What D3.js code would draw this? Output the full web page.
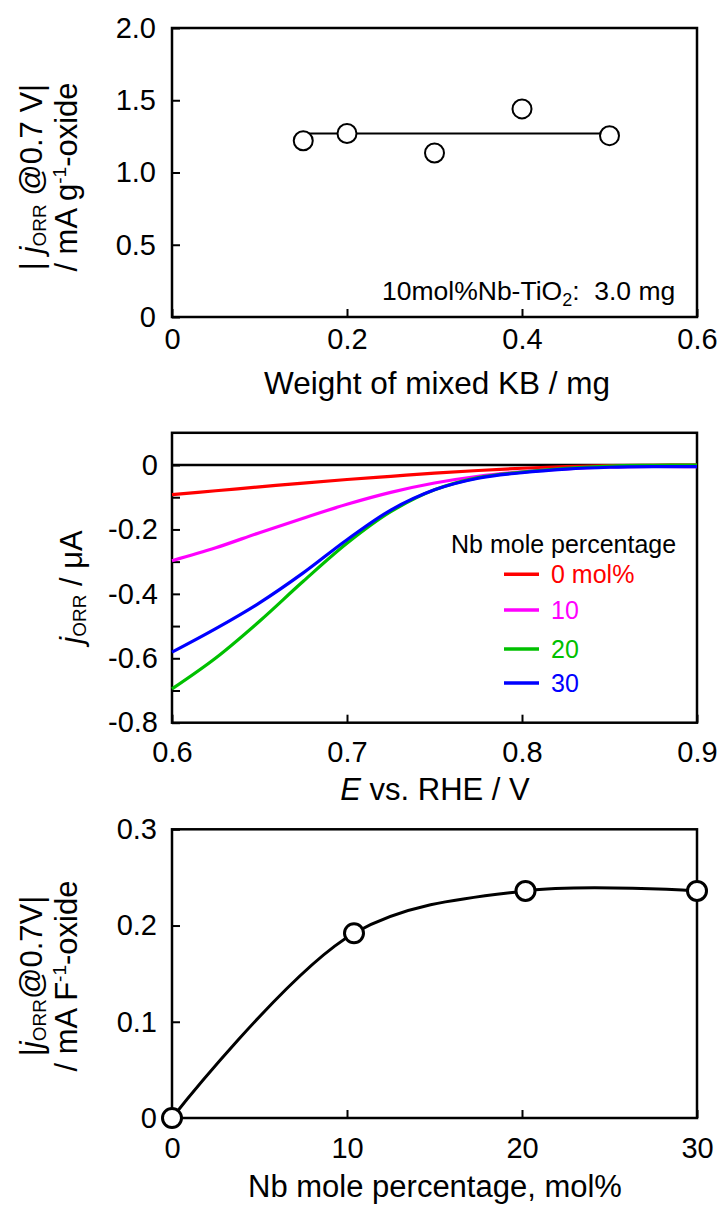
<!DOCTYPE html>
<html><head><meta charset="utf-8">
<script src="https://cdn.jsdelivr.net/npm/d3@7"></script>
<style>
body{margin:0;background:#fff;}
svg{display:block;font-family:"Liberation Sans",Arial,sans-serif;}
</style></head>
<body>
<svg id="c" width="722" height="1205"></svg>
<script>
// ---- Panel 1 data ----
const weightKB = [0.15, 0.2, 0.3, 0.4, 0.5];
const jWeight = [1.22, 1.27, 1.135, 1.44, 1.255];
const meanLineX = [0.15, 0.5];
const meanLineY = [1.27, 1.27];
const p1XTicks = [0, 0.2, 0.4, 0.6];
const p1XLabels = ["0", "0.2", "0.4", "0.6"];
const p1YTicks = [0, 0.5, 1.0, 1.5, 2.0];
const p1YLabels = ["0", "0.5", "1.0", "1.5", "2.0"];

// ---- Panel 2 data ----
const potential = [0.6, 0.625, 0.65, 0.675, 0.7, 0.725, 0.75, 0.775, 0.8, 0.825, 0.85, 0.875, 0.9];
const j0 = [-0.092, -0.080, -0.068, -0.056, -0.045, -0.035, -0.025, -0.017, -0.010, -0.005, -0.002, -0.001, 0];
const j10 = [-0.297, -0.257, -0.210, -0.165, -0.122, -0.085, -0.056, -0.035, -0.021, -0.012, -0.006, -0.004, -0.005];
const j20 = [-0.695, -0.599, -0.485, -0.361, -0.243, -0.145, -0.077, -0.039, -0.022, -0.010, -0.003, -0.001, 0];
const j30 = [-0.581, -0.508, -0.428, -0.335, -0.232, -0.140, -0.077, -0.041, -0.024, -0.013, -0.007, -0.005, -0.005];
const seriesNames = ["0 mol%", "10", "20", "30"];
const seriesColors = ["#ff0000", "#ff00ff", "#00c000", "#0000ff"];
const p2XTicks = [0.6, 0.7, 0.8, 0.9];
const p2XLabels = ["0.6", "0.7", "0.8", "0.9"];
const p2YTicks = [0, -0.1, -0.2, -0.3, -0.4, -0.5, -0.6, -0.7, -0.8];
const p2YLabels = ["0", "", "-0.2", "", "-0.4", "", "-0.6", "", "-0.8"];

// ---- Panel 3 data ----
const nbPct = [0, 10.4, 20.2, 30];
const jNb = [0, 0.192, 0.236, 0.236];
const p3XTicks = [0, 10, 20, 30];
const p3XLabels = ["0", "10", "20", "30"];
const p3YTicks = [0, 0.1, 0.2, 0.3];
const p3YLabels = ["0", "0.1", "0.2", "0.3"];

const svg = d3.select("#c");
const L = 172, R = 697;
const TICK = 8;
const TFS = 29;

function frame(g, top, bottom) {
  g.append("rect").attr("x", L).attr("y", top).attr("width", R - L).attr("height", bottom - top)
    .attr("fill", "none").attr("stroke", "#000").attr("stroke-width", 2.5);
}
function styleAxis(sel, fs) {
  sel.select(".domain").remove();
  sel.selectAll(".tick line").attr("stroke", "#000").attr("stroke-width", 2);
  sel.selectAll(".tick text").attr("fill", "#000").style("font-size", fs + "px")
    .style("font-family", '"Liberation Sans", Arial, sans-serif');
}
function yTitle(g, cy, lines) {
  lines.forEach(parts => {
    const t = g.append("text").attr("transform", `translate(${parts.x},${cy}) rotate(-90)`)
      .attr("text-anchor", "middle").style("font-size", "31px").attr("fill", "#000");
    parts.spans.forEach(s => {
      const ts = t.append("tspan").text(s.t);
      if (s.italic) ts.style("font-style", "italic");
      if (s.size) ts.style("font-size", s.size + "px");
      if (s.dy) ts.attr("dy", s.dy);
    });
  });
}

// ================= Panel 1 =================
{
  const top = 28, bottom = 317;
  const x = d3.scaleLinear().domain([0, 0.6]).range([L, R]);
  const y = d3.scaleLinear().domain([0, 2.0]).range([bottom, top]);
  const g = svg.append("g");
  g.append("g").attr("transform", `translate(${L},0)`)
    .call(d3.axisLeft(y).tickValues(p1YTicks).tickSizeInner(-TICK).tickSizeOuter(0).tickPadding(16)
      .tickFormat((d, i) => p1YLabels[i])).call(s => styleAxis(s, TFS));
  g.append("g").attr("transform", `translate(0,${bottom})`)
    .call(d3.axisBottom(x).tickValues(p1XTicks).tickSizeInner(-TICK).tickSizeOuter(0).tickPadding(11)
      .tickFormat((d, i) => p1XLabels[i])).call(s => styleAxis(s, TFS));
  frame(g, top, bottom);
  const lineData = meanLineX.map((v, i) => [v, meanLineY[i]]);
  g.append("path").datum(lineData).attr("fill", "none").attr("stroke", "#000").attr("stroke-width", 2)
    .attr("d", d3.line().x(d => x(d[0])).y(d => y(d[1])));
  g.selectAll("circle.p1").data(weightKB.map((v, i) => [v, jWeight[i]])).join("circle")
    .attr("cx", d => x(d[0])).attr("cy", d => y(d[1])).attr("r", 9.5)
    .attr("fill", "#fff").attr("stroke", "#000").attr("stroke-width", 2);
  const ann = g.append("text").attr("x", 382).attr("y", 300).style("font-size", "26.5px").attr("fill", "#000");
  ann.append("tspan").text("10mol%Nb-TiO");
  ann.append("tspan").text("2").style("font-size", "18px").attr("dy", 6);
  ann.append("tspan").text(":\u00a0\u00a03.0 mg").attr("dy", -6);
  g.append("text").attr("x", 437).attr("y", 394).attr("text-anchor", "middle")
    .style("font-size", "31.5px").text("Weight of mixed KB / mg");
  yTitle(g, 177, [
    {x: 42, spans: [{t: "| "}, {t: "j", italic: true}, {t: "ORR", size: 19, dy: 4}, {t: " @0.7 V|", dy: -4}]},
    {x: 77, spans: [{t: "/ mA g"}, {t: "-1", size: 19, dy: -11}, {t: "-oxide", dy: 11}]}
  ]);
}

// ================= Panel 2 =================
{
  const top = 432.8, bottom = 722.7;
  const x = d3.scaleLinear().domain([0.6, 0.9]).range([L, R]);
  const y = d3.scaleLinear().domain([-0.8, 0.1]).range([bottom, top]);
  const g = svg.append("g");
  g.append("g").attr("transform", `translate(${L},0)`)
    .call(d3.axisLeft(y).tickValues(p2YTicks).tickSizeInner(-TICK).tickSizeOuter(0).tickPadding(14)
      .tickFormat((d, i) => p2YLabels[i])).call(s => styleAxis(s, TFS));
  g.append("g").attr("transform", `translate(0,${bottom})`)
    .call(d3.axisBottom(x).tickValues(p2XTicks).tickSizeInner(-TICK).tickSizeOuter(0).tickPadding(19)
      .tickFormat((d, i) => p2XLabels[i])).call(s => styleAxis(s, TFS));
  frame(g, top, bottom);
  g.append("line").attr("x1", L).attr("x2", R).attr("y1", y(0)).attr("y2", y(0))
    .attr("stroke", "#000").attr("stroke-width", 2.5);
  const series = [j0, j10, j20, j30];
  const line = d3.line().x(d => x(d[0])).y(d => y(d[1])).curve(d3.curveCatmullRom.alpha(0.5));
  series.forEach((s, k) => {
    g.append("path").datum(potential.map((p, i) => [p, s[i]])).attr("fill", "none")
      .attr("stroke", seriesColors[k]).attr("stroke-width", 3.2).attr("d", line);
  });
  g.append("text").attr("x", 451).attr("y", 553).style("font-size", "25px").attr("fill", "#000")
    .text("Nb mole percentage");
  const legY = [574.3, 610, 649, 683];
  seriesNames.forEach((n, k) => {
    g.append("line").attr("x1", 504).attr("x2", 539).attr("y1", legY[k]).attr("y2", legY[k])
      .attr("stroke", seriesColors[k]).attr("stroke-width", 3.4);
    g.append("text").attr("x", 551).attr("y", legY[k] + 9).style("font-size", "25px")
      .attr("fill", seriesColors[k]).text(n);
  });
  const xt = g.append("text").attr("x", 435).attr("y", 800).attr("text-anchor", "middle")
    .style("font-size", "31px").attr("fill", "#000");
  xt.append("tspan").text("E").style("font-style", "italic");
  xt.append("tspan").text(" vs. RHE / V");
  yTitle(g, 587, [
    {x: 82, spans: [{t: "j", italic: true}, {t: "ORR", size: 19, dy: 4}, {t: " / μA", dy: -4}]}
  ]);
}

// ================= Panel 3 =================
{
  const top = 829.3, bottom = 1118;
  const x = d3.scaleLinear().domain([0, 30]).range([L, R]);
  const y = d3.scaleLinear().domain([0, 0.3]).range([bottom, top]);
  const g = svg.append("g");
  g.append("g").attr("transform", `translate(${L},0)`)
    .call(d3.axisLeft(y).tickValues(p3YTicks).tickSizeInner(-TICK).tickSizeOuter(0).tickPadding(15)
      .tickFormat((d, i) => p3YLabels[i])).call(s => styleAxis(s, TFS));
  g.append("g").attr("transform", `translate(0,${bottom})`)
    .call(d3.axisBottom(x).tickValues(p3XTicks).tickSizeInner(-TICK).tickSizeOuter(0).tickPadding(19)
      .tickFormat((d, i) => p3XLabels[i])).call(s => styleAxis(s, TFS));
  frame(g, top, bottom);
  const pts = nbPct.map((v, i) => [v, jNb[i]]);
  g.append("path").datum(pts).attr("fill", "none").attr("stroke", "#000").attr("stroke-width", 3)
    .attr("d", d3.line().x(d => x(d[0])).y(d => y(d[1])).curve(d3.curveCatmullRom.alpha(0.5)));
  g.selectAll("circle.p3").data(pts).join("circle")
    .attr("cx", d => x(d[0])).attr("cy", d => y(d[1])).attr("r", 9.5)
    .attr("fill", "#fff").attr("stroke", "#000").attr("stroke-width", 3);
  g.append("text").attr("x", 435).attr("y", 1197).attr("text-anchor", "middle")
    .style("font-size", "31px").text("Nb mole percentage, mol%");
  yTitle(g, 976, [
    {x: 42, spans: [{t: "|"}, {t: "j", italic: true}, {t: "ORR", size: 19, dy: 4}, {t: "@0.7V|", dy: -4}]},
    {x: 77, spans: [{t: "/ mA F"}, {t: "-1", size: 19, dy: -11}, {t: "-oxide", dy: 11}]}
  ]);
}
</script>
</body></html>
